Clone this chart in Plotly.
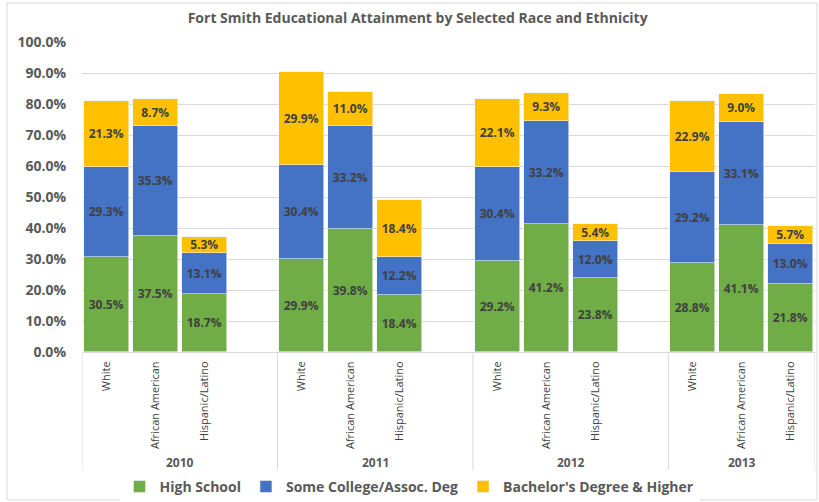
import plotly.graph_objects as go

years = ["2010", "2011", "2012", "2013"]
groups = ["White", "African American", "Hispanic/Latino"]
series_names = ["High School", "Some College/Assoc. Deg", "Bachelor's Degree & Higher"]
colors = ["#70AD47", "#4472C4", "#FFC000"]

high_school = [30.5, 37.5, 18.7, 29.9, 39.8, 18.4, 29.2, 41.2, 23.8, 28.8, 41.1, 21.8]
some_college = [29.3, 35.3, 13.1, 30.4, 33.2, 12.2, 30.4, 33.2, 12.0, 29.2, 33.1, 13.0]
bachelors = [21.3, 8.7, 5.3, 29.9, 11.0, 18.4, 22.1, 9.3, 5.4, 22.9, 9.0, 5.7]

y_ticks = list(range(0, 101, 10))

# slot positions: 3 bars per year plus an empty slot between year groups
xpos = [yi * 4 + gi for yi in range(len(years)) for gi in range(len(groups))]
xlabels = [g for _ in years for g in groups]

fig = go.Figure()
for name, vals, col in zip(series_names, [high_school, some_college, bachelors], colors):
    fig.add_trace(go.Bar(
        x=xpos, y=vals, name=name, width=0.92,
        marker=dict(color=col, line=dict(color="#f2f2f2", width=0.6)),
        text=[f"{v:.1f}%" for v in vals], textposition="inside",
        insidetextanchor="middle", textangle=0, constraintext="none",
        textfont=dict(family="Open Sans", size=12, color="#404040", weight="bold"),
        hoverinfo="skip",
    ))

n_slots = len(years) * 4 - 1
line_color = "#d9d9d9"
shapes = []
bounds = [-0.5] + [yi * 4 + 3.5 for yi in range(len(years) - 1)] + [n_slots - 0.5]
for b in bounds:
    shapes.append(dict(type="line", xref="x", yref="paper", x0=b, x1=b, y0=0, y1=-0.381,
                       line=dict(color=line_color, width=1)))
# outer chart border
shapes.append(dict(type="rect", xref="paper", yref="paper",
                   x0=(7 - 82) / 733, x1=(817 - 82) / 733, y0=-0.477, y1=1.126,
                   line=dict(color=line_color, width=1)))

annotations = []
for yi, yr in enumerate(years):
    lo = bounds[yi]
    hi = bounds[yi + 1]
    annotations.append(dict(x=(lo + hi) / 2, y=-0.358, xref="x", yref="paper", text=yr,
                            showarrow=False, yanchor="middle",
                            font=dict(family="Open Sans", size=12, color="#595959", weight="bold")))

fig.update_layout(
    width=819, height=502,
    margin=dict(l=82, r=4, t=42, b=150),
    paper_bgcolor="white", plot_bgcolor="white",
    barmode="stack", bargap=0,
    title=dict(text="Fort Smith Educational Attainment by Selected Race and Ethnicity",
               x=0.51, xref="container", y=0.964, yanchor="middle",
               font=dict(family="Open Sans", size=14, color="#595959", weight="bold")),
    showlegend=True,
    legend=dict(orientation="h", x=0.5, xref="container", xanchor="center",
                y=0.03, yref="container", yanchor="middle",
                font=dict(family="Open Sans", size=14, color="#595959", weight="bold"),
                traceorder="normal", itemwidth=30),
    shapes=shapes, annotations=annotations,
    xaxis=dict(range=[-0.5, n_slots - 0.5], tickmode="array", tickvals=xpos, ticktext=xlabels,
               tickangle=-90, showgrid=False, zeroline=False, showline=True,
               linecolor=line_color, linewidth=1, ticks="", automargin=False,
               tickfont=dict(family="Open Sans", size=11, color="#404040"),
               ticklabelstandoff=4),
    yaxis=dict(range=[0, 100], tickmode="array", tickvals=y_ticks,
               ticktext=[f"{v:.1f}%" for v in y_ticks],
               showgrid=True, gridcolor=line_color, gridwidth=1, zeroline=False,
               showline=False, ticks="", automargin=False,
               tickfont=dict(family="Open Sans", size=14, color="#595959", weight="bold"),
               ticklabelstandoff=15),
)

fig.write_html("out.html", config={"displayModeBar": False},
               post_script="document.body.style.margin='0';")
